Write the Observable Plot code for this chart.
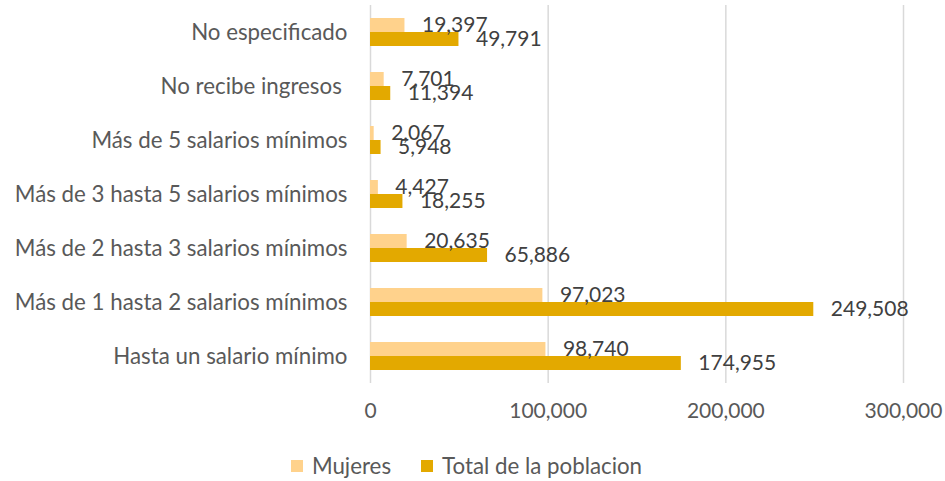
<!DOCTYPE html>
<html>
<head>
<meta charset="utf-8">
<script src="https://cdn.jsdelivr.net/npm/d3@7"></script>
<script src="https://cdn.jsdelivr.net/npm/@observablehq/plot@0.6"></script>
<style>
  body { margin: 0; background: white; font-family: Lato, sans-serif; }
  #legend { display: flex; justify-content: center; gap: 30px; font-size: 22.3px; color: #595959; padding-top: 12px; padding-right: 12px; }
  .item { display: flex; align-items: center; gap: 9px; }
  .sw { width: 12px; height: 12px; display: inline-block; }
  [aria-label^="fy-axis"] text { font-size: 22.3px; }
</style>
</head>
<body>
<div id="chart"></div>
<div id="legend"></div>
<script>
const categories = [
  "No especificado",
  "No recibe ingresos\u00a0",
  "Más de 5 salarios mínimos",
  "Más de 3 hasta 5 salarios mínimos",
  "Más de 2 hasta 3 salarios mínimos",
  "Más de 1 hasta 2 salarios mínimos",
  "Hasta un salario mínimo"
];
const series = ["Mujeres", "Total de la poblacion"];
const mujeres = [19397, 7701, 2067, 4427, 20635, 97023, 98740];
const total = [49791, 11394, 5948, 18255, 65886, 249508, 174955];
const xTicks = [0, 100000, 200000, 300000];
const colors = ["#FFD28C", "#E3A900"];

const data = [];
categories.forEach((c, i) => {
  data.push({category: c, series: series[0], value: mujeres[i]});
  data.push({category: c, series: series[1], value: total[i]});
});
const fmt = d3.format(",");

const chart = Plot.plot({
  width: 945,
  height: 440,
  marginLeft: 370,
  marginRight: 42,
  marginTop: 4,
  marginBottom: 57,
  style: {fontFamily: "Lato, sans-serif", fontSize: "21px", color: "#595959", background: "white", overflow: "visible"},
  x: {domain: [0, 300000], ticks: xTicks, tickFormat: fmt, tickSize: 0, tickPadding: 20, label: null},
  y: {domain: series, axis: null, paddingInner: 0, paddingOuter: 0.92},
  fy: {domain: categories, padding: 0, axis: "left", label: null, tickSize: 0, tickPadding: 23},
  color: {domain: series, range: colors},
  marks: [
    Plot.ruleX(xTicks, {stroke: "#d9d9d9", strokeWidth: 1.5}),
    Plot.barX(data, {x: "value", y: "series", fy: "category", fill: "series"}),
    Plot.text(data, {x: "value", y: "series", fy: "category", text: d => fmt(d.value), dx: 17, textAnchor: "start", fill: "#404040", fontSize: 21})
  ]
});
document.getElementById("chart").appendChild(chart);

const legend = document.getElementById("legend");
series.forEach((s, i) => {
  const item = document.createElement("span");
  item.className = "item";
  const sw = document.createElement("span");
  sw.className = "sw";
  sw.style.background = colors[i];
  const t = document.createElement("span");
  t.textContent = s;
  item.appendChild(sw);
  item.appendChild(t);
  legend.appendChild(item);
});
</script>
</body>
</html>
